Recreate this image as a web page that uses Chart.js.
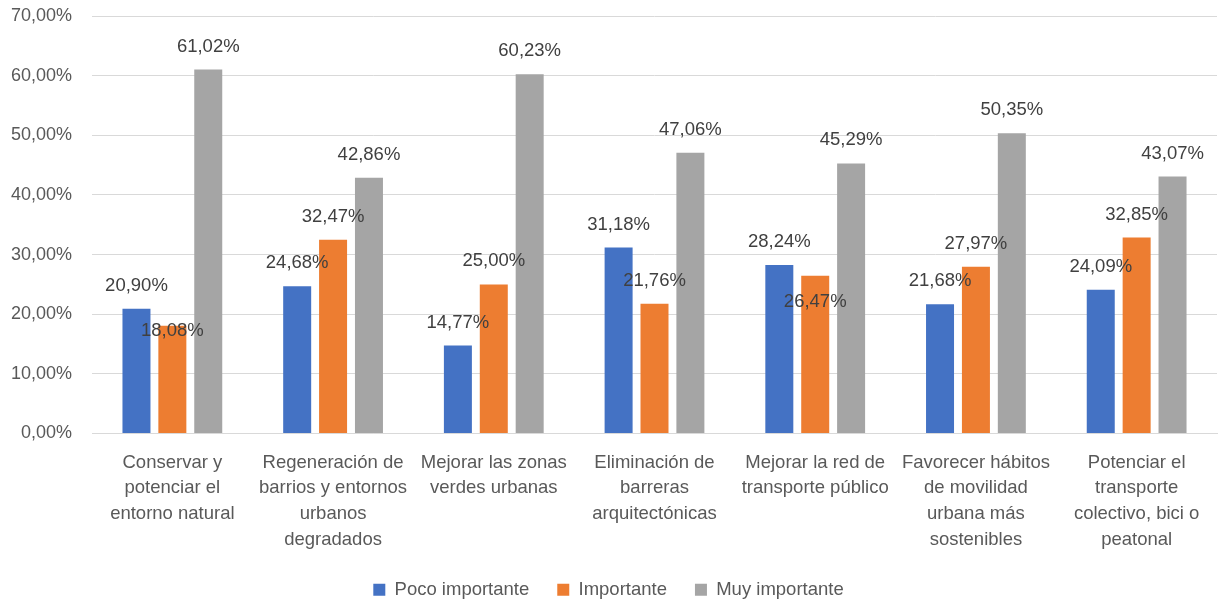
<!DOCTYPE html>
<html>
<head>
<meta charset="utf-8">
<script src="https://cdn.jsdelivr.net/npm/chart.js@4/dist/chart.umd.min.js"></script>
<style>
  html, body { margin: 0; padding: 0; background: #fff; }
  #wrap { width: 1224px; height: 603px; }
</style>
</head>
<body>
<div id="wrap"><canvas id="myChart" width="1224" height="603"></canvas></div>
<script>
var categories = [
  ["Conservar y", "potenciar el", "entorno natural"],
  ["Regeneración de", "barrios y entornos", "urbanos", "degradados"],
  ["Mejorar las zonas", "verdes urbanas"],
  ["Eliminación de", "barreras", "arquitectónicas"],
  ["Mejorar la red de", "transporte público"],
  ["Favorecer hábitos", "de movilidad", "urbana más", "sostenibles"],
  ["Potenciar el", "transporte", "colectivo, bici o", "peatonal"]
];
var pocoImportante = [20.90, 24.68, 14.77, 31.18, 28.24, 21.68, 24.09];
var importante = [18.08, 32.47, 25.00, 21.76, 26.47, 27.97, 32.85];
var muyImportante = [61.02, 42.86, 60.23, 47.06, 45.29, 50.35, 43.07];
var yTicks = [0, 10, 20, 30, 40, 50, 60, 70];

// labels that Excel pushed down to avoid overlap (px, orange series only)
var labelNudge = [[], [28, 0, 0, 0, 49, 0, 0], []];

function pct(v) {
  return v.toFixed(2).replace('.', ',') + '%';
}

var FONT = "'Liberation Sans', Arial, sans-serif";
var TXT = '#595959';

var barLabels = {
  id: 'barLabels',
  afterDatasetsDraw: function (chart) {
    var ctx = chart.ctx;
    ctx.save();
    ctx.font = '18.5px ' + FONT;
    ctx.fillStyle = '#404040';
    ctx.textAlign = 'center';
    ctx.textBaseline = 'middle';
    chart.data.datasets.forEach(function (ds, i) {
      chart.getDatasetMeta(i).data.forEach(function (bar, j) {
        var nudge = labelNudge[i][j] || 0;
        ctx.fillText(pct(ds.data[j]), bar.x, bar.y - 23 + nudge);
      });
    });
    ctx.restore();
  }
};

var ctx = document.getElementById('myChart').getContext('2d');
var myChart = new Chart(ctx, {
  type: 'bar',
  data: {
    labels: categories,
    datasets: [
      { label: 'Poco importante', data: pocoImportante, backgroundColor: '#4472C4' },
      { label: 'Importante', data: importante, backgroundColor: '#ED7D31' },
      { label: 'Muy importante', data: muyImportante, backgroundColor: '#A5A5A5' }
    ]
  },
  options: {
    responsive: false,
    animation: false,
    devicePixelRatio: 1,
    categoryPercentage: 0.67,
    barPercentage: 0.78,
    layout: { padding: { top: 16, right: 7, left: 0, bottom: -6 } },
    plugins: {
      tooltip: { enabled: false },
      legend: {
        position: 'bottom',
        labels: {
          font: { family: FONT, size: 18.5 },
          color: TXT,
          boxWidth: 12,
          boxHeight: 12,
          padding: 28
        }
      }
    },
    scales: {
      x: {
        grid: { display: false, drawTicks: false },
        border: { display: true, color: '#d9d9d9', width: 1 },
        ticks: {
          font: { family: FONT, size: 18.5, lineHeight: 1.4 },
          color: TXT,
          maxRotation: 0,
          autoSkip: false,
          padding: 16
        },
        afterFit: function (scale) { scale.height = 119; }
      },
      y: {
        min: 0,
        max: 70,
        afterBuildTicks: function (scale) {
          scale.ticks = yTicks.map(function (v) { return { value: v }; });
        },
        grid: { color: '#d9d9d9', lineWidth: 1, drawTicks: false },
        border: { display: false },
        ticks: {
          font: { family: FONT, size: 18 },
          color: TXT,
          padding: 20,
          callback: function (v) { return pct(v); }
        },
        afterFit: function (scale) {
          scale.width = 92;
          scale.paddingTop = 0;
          scale.paddingBottom = 0;
        }
      }
    }
  },
  plugins: [barLabels]
});
</script>
</body>
</html>
